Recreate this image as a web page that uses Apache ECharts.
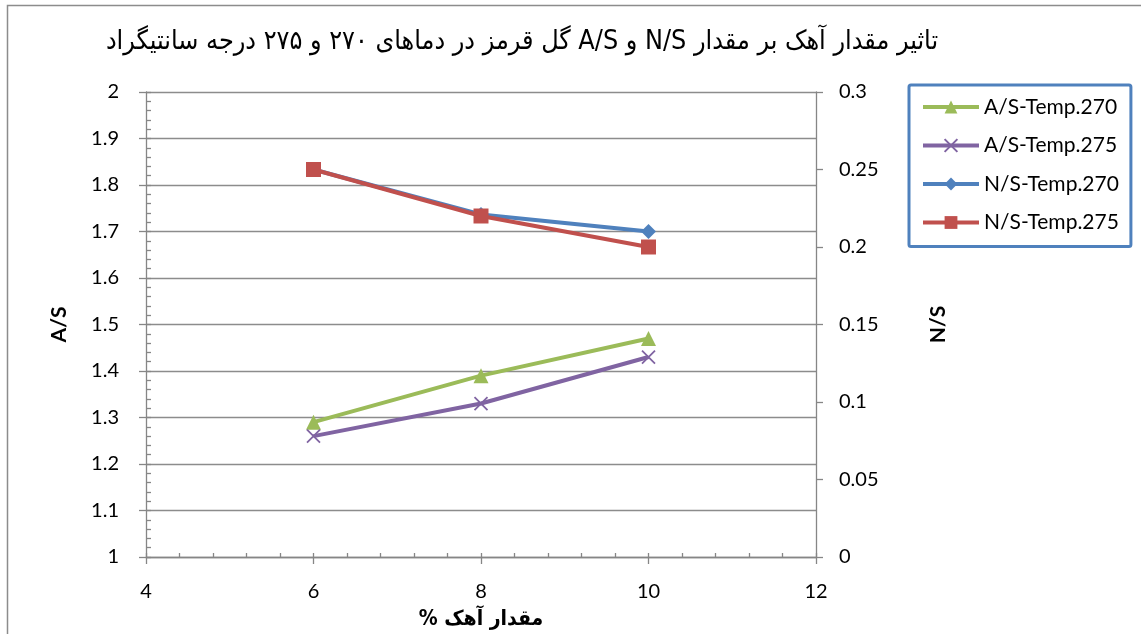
<!DOCTYPE html>
<html>
<head>
<meta charset="utf-8">
<script src="https://cdn.jsdelivr.net/npm/echarts@6/dist/echarts.min.js"></script>
<style>
  html, body { margin: 0; padding: 0; background: #fff; }
  #chart { width: 1141px; height: 634px; }
</style>
</head>
<body>
<div id="chart"></div>
<script>
// Lime content (%) on the x axis
const limeContent = [6, 8, 10];

// A/S ratios (left axis)
const as270 = [1.29, 1.39, 1.47];
const as275 = [1.26, 1.33, 1.43];

// N/S ratios (right axis)
const ns270 = [0.25, 0.221, 0.21];
const ns275 = [0.25, 0.22, 0.20];

const seriesNames = ['A/S-Temp.270', 'A/S-Temp.275', 'N/S-Temp.270', 'N/S-Temp.275'];
const titleText = 'تاثیر مقدار آهک بر مقدار N/S و A/S گل قرمز در دماهای ۲۷۰ و ۲۷۵ درجه سانتیگراد';
const xName = 'مقدار آهک %';

// wrap Persian strings in a right-to-left embedding so canvas orders them correctly
const rtl = s => '\u202B' + s + '\u202C';
const pairs = arr => limeContent.map((x, i) => [x, arr[i]]);

const axisGray = '#868686';
const numFont = 'Lato, "Open Sans", sans-serif';
const faFont = '"DejaVu Sans Condensed", "DejaVu Sans"';
const crossPath = 'path://M0,0L10,10M10,0L0,10';

const chart = echarts.init(document.getElementById('chart'), null, { renderer: 'canvas' });

chart.setOption({
  animation: false,
  backgroundColor: '#fff',
  graphic: [{
    type: 'rect',
    shape: { x: 7.5, y: 5.5, width: 1300, height: 800 },
    style: { fill: 'none', stroke: '#8c8c8c', lineWidth: 1.5 },
    silent: true
  }],
  title: {
    text: rtl(titleText),
    left: 517, top: 24, textAlign: 'center',
    textStyle: { fontFamily: faFont, fontSize: 26.7, fontWeight: 'normal', color: '#000' }
  },
  legend: {
    orient: 'vertical',
    left: 909, top: 85,
    padding: [10, 12, 12, 12],
    backgroundColor: '#fff',
    borderColor: '#4f81bd', borderWidth: 3, borderRadius: 2,
    itemWidth: 56, itemHeight: 16, itemGap: 14.5,
    lineStyle: { width: 4 },
    data: seriesNames,
    textStyle: { fontFamily: numFont, fontSize: 21, color: '#000', lineHeight: 24 }
  },
  grid: { left: 146, right: 325, top: 92, bottom: 77, containLabel: false, outerBoundsMode: 'none' },
  xAxis: [{
    type: 'value', min: 4, max: 12, interval: 2,
    name: rtl(xName), nameLocation: 'middle', nameGap: 52,
    nameTextStyle: { fontFamily: faFont, fontSize: 21, fontWeight: 'bold', color: '#000' },
    axisLine: { show: true, onZero: false, lineStyle: { color: axisGray, width: 1.3 } },
    axisTick: { show: true, inside: false, length: 7, lineStyle: { color: axisGray, width: 1.3 } },
    axisLabel: { margin: 25, fontFamily: numFont, fontSize: 20, color: '#000' },
    splitLine: { show: false }
  }, {
    // minor ticks pointing into the plot
    type: 'value', min: 4, max: 12, interval: 0.4, position: 'bottom',
    axisLine: { show: false },
    axisTick: { show: true, inside: true, length: 4, lineStyle: { color: axisGray, width: 1.3 } },
    axisLabel: { show: false },
    splitLine: { show: false }
  }],
  yAxis: [{
    type: 'value', min: 1, max: 2, interval: 0.1, position: 'left',
    name: 'A/S', nameLocation: 'middle', nameGap: 76, nameRotate: 90,
    nameTextStyle: { fontFamily: numFont, fontSize: 21, fontWeight: 'bold', color: '#000' },
    axisLine: { show: true, onZero: false, lineStyle: { color: axisGray, width: 1.3 } },
    axisTick: { show: true, inside: false, length: 7, lineStyle: { color: axisGray, width: 1.3 } },
    axisLabel: { margin: 27, fontFamily: numFont, fontSize: 20, color: '#000',
      formatter: v => String(Math.round(v * 10) / 10) },
    splitLine: { show: true, lineStyle: { color: '#8c8c8c', width: 1.3 } }
  }, {
    type: 'value', min: 0, max: 0.3, interval: 0.05, position: 'right',
    name: 'N/S', nameLocation: 'middle', nameGap: 112, nameRotate: 90,
    nameTextStyle: { fontFamily: numFont, fontSize: 21, fontWeight: 'bold', color: '#000' },
    axisLine: { show: true, onZero: false, lineStyle: { color: axisGray, width: 1.3 } },
    axisTick: { show: true, inside: false, length: 7, lineStyle: { color: axisGray, width: 1.3 } },
    axisLabel: { margin: 23, fontFamily: numFont, fontSize: 20, color: '#000',
      formatter: v => String(Math.round(v * 100) / 100) },
    splitLine: { show: false }
  }, {
    // minor ticks on the left axis, pointing into the plot
    type: 'value', min: 1, max: 2, interval: 0.02, position: 'left',
    axisLine: { show: false },
    axisTick: { show: true, inside: true, length: 5, lineStyle: { color: axisGray, width: 1.3 } },
    axisLabel: { show: false },
    splitLine: { show: false }
  }],
  series: [{
    name: seriesNames[0], type: 'line', xAxisIndex: 0, yAxisIndex: 0,
    data: pairs(as270),
    symbol: 'triangle', symbolSize: 15,
    lineStyle: { color: '#9bbb59', width: 4 },
    itemStyle: { color: '#9bbb59' }
  }, {
    name: seriesNames[1], type: 'line', xAxisIndex: 0, yAxisIndex: 0,
    data: pairs(as275),
    symbol: crossPath, symbolSize: 13,
    lineStyle: { color: '#8064a2', width: 4 },
    itemStyle: { color: '#8064a2', borderColor: '#8064a2', borderWidth: 1.8 }
  }, {
    name: seriesNames[2], type: 'line', xAxisIndex: 0, yAxisIndex: 1,
    data: pairs(ns270),
    symbol: 'diamond', symbolSize: 15,
    lineStyle: { color: '#4f81bd', width: 4 },
    itemStyle: { color: '#4f81bd' }
  }, {
    name: seriesNames[3], type: 'line', xAxisIndex: 0, yAxisIndex: 1,
    data: pairs(ns275),
    symbol: 'rect', symbolSize: 15,
    lineStyle: { color: '#c0504d', width: 4 },
    itemStyle: { color: '#c0504d' }
  }]
});
</script>
</body>
</html>
